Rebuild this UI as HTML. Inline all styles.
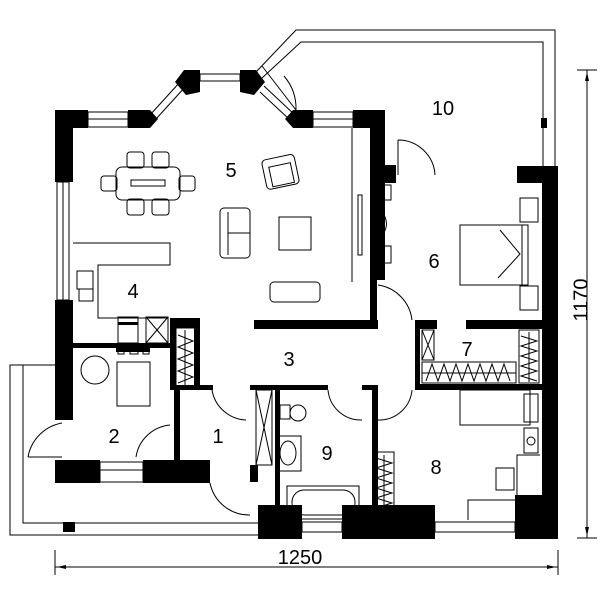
<!DOCTYPE html>
<html><head><meta charset="utf-8"><style>
html,body{margin:0;padding:0;background:#fff}
svg{display:block}
text{font-family:"Liberation Sans",Arial,sans-serif;fill:#000}
</style></head><body>
<svg width="600" height="600" viewBox="0 0 600 600" xmlns="http://www.w3.org/2000/svg">
<g fill="none" stroke="#000" stroke-width="1">
<!-- terrace 10 -->
<polyline points="256,72 296,30 555,30 555,166"/>
<polyline points="262,78 301,42 543,42 543,166"/>
<!-- terrace left -->
<polyline points="55,365 10,365 10,535 258,535"/>
<polyline points="55,365 23,365 23,523 258,523"/>
<!-- windows -->
<rect x="88" y="112" width="40" height="15"/><line x1="88" y1="119" x2="128" y2="119"/>
<rect x="313" y="112" width="40" height="15"/><line x1="313" y1="119" x2="353" y2="119"/>
<rect x="200" y="74" width="40" height="7"/>
<line x1="150" y1="115" x2="180" y2="82"/><line x1="156" y1="119" x2="186" y2="86"/>
<line x1="264" y1="86" x2="296" y2="116"/><line x1="260" y1="92" x2="290" y2="120"/>
<path d="M262,66 L296,110 A50,50 0 0 0 284,76"/>
<rect x="57" y="182" width="12" height="118"/><line x1="63" y1="182" x2="63" y2="300"/>
<rect x="100" y="462" width="43" height="20"/><line x1="100" y1="470" x2="143" y2="470"/>
<rect x="302" y="522" width="40" height="10"/>
<rect x="435" y="522" width="80" height="10"/>
<rect x="548" y="420" width="8" height="85"/>
<!-- living room -->
<line x1="352" y1="128" x2="352" y2="282"/>
<rect x="358" y="195" width="4" height="60"/>
<!-- dining -->
<rect x="116" y="167" width="64" height="33" rx="6"/>
<rect x="131" y="180" width="34" height="6"/>
<rect x="127" y="152" width="17" height="16" rx="3"/><rect x="152" y="152" width="17" height="16" rx="3"/>
<rect x="127" y="199" width="17" height="16" rx="3"/><rect x="152" y="199" width="17" height="16" rx="3"/>
<rect x="101" y="176" width="16" height="15" rx="3"/><rect x="179" y="176" width="16" height="15" rx="3"/>
<!-- armchair -->
<rect x="264" y="157" width="33" height="30" rx="4" transform="rotate(-12 280 172)"/>
<rect x="270" y="165" width="22" height="20" transform="rotate(-12 280 172)"/>
<!-- sofa -->
<rect x="220" y="208" width="30" height="50" rx="4"/><line x1="228" y1="212" x2="228" y2="255"/><line x1="228" y1="233" x2="250" y2="233"/>
<rect x="279" y="217" width="32" height="33"/>
<rect x="270" y="282" width="50" height="20" rx="4"/>
<!-- kitchen -->
<polyline points="73,243 170,243 170,265 98,265 98,318 168,318"/>
<rect x="77" y="271" width="16" height="18"/><rect x="79" y="289" width="14" height="12"/>
<rect x="118" y="317" width="20" height="26"/>
<rect x="146" y="317" width="22" height="26"/><line x1="146" y1="317" x2="168" y2="343"/><line x1="168" y1="317" x2="146" y2="343"/>
<!-- closets -->
<rect x="176" y="328" width="19" height="58"/>
<path d="M178,335 l15,6 l-15,6 l15,6 l-15,6 l15,6 l-15,6 l15,6 l-15,6 M185,330 v55"/>
<rect x="422" y="330" width="12" height="30"/><line x1="422" y1="330" x2="434" y2="360"/><line x1="434" y1="330" x2="422" y2="360"/>
<rect x="422" y="362" width="94" height="21"/>
<path d="M426,381 l6,-17 l6,17 l6,-17 l6,17 l6,-17 l6,17 l6,-17 l6,17 l6,-17 l6,17 l6,-17 l6,17 l6,-17 l6,17 M422,373 h94"/>
<rect x="519" y="330" width="20" height="53"/>
<path d="M521,336 l16,5 l-16,5 l16,5 l-16,5 l16,5 l-16,5 l16,5 l-16,5 l16,5 M529,332 v50"/>
<rect x="256" y="390" width="16" height="75"/><line x1="256" y1="390" x2="272" y2="465"/><line x1="272" y1="390" x2="256" y2="465"/>
<rect x="374" y="452" width="20" height="68"/>
<path d="M376,458 l16,5 l-16,5 l16,5 l-16,5 l16,5 l-16,5 l16,5 l-16,5 l16,5 l-16,5 l16,5 M384,455 v62"/>
<!-- room 2 -->
<circle cx="95" cy="370" r="14"/>
<rect x="117" y="362" width="33" height="44"/>
<rect x="118" y="350" width="6" height="4"/><rect x="130" y="350" width="8" height="4"/><rect x="143" y="350" width="6" height="4"/>
<!-- doors -->
<path d="M398,140 L398,175 M398,140 A37,37 0 0 1 435,175"/>
<path d="M28,457 A42,42 0 0 1 62,423 M28,457 L62,457"/>
<path d="M136,457 A38,38 0 0 1 170,425"/>
<path d="M212,390 A36,36 0 0 0 246,420"/>
<path d="M210,483 A40,40 0 0 0 250,515"/>
<path d="M328,390 A33,33 0 0 0 362,420"/>
<path d="M412,390 A33,33 0 0 1 378,420"/>
<path d="M378,285 A40,40 0 0 1 412,320"/>
<!-- room 6 -->
<rect x="460" y="225" width="68" height="60"/><line x1="522" y1="225" x2="522" y2="285"/>
<polyline points="500,230 520,254 498,278"/>
<rect x="520" y="198" width="18" height="24"/><rect x="520" y="286" width="18" height="24"/>
<rect x="373" y="185" width="18" height="15"/><rect x="373" y="246" width="18" height="17"/>
<path d="M373,203 Q400,224 373,244"/>
<!-- bath -->
<rect x="280" y="405" width="10" height="14"/><ellipse cx="298" cy="413" rx="8" ry="8"/>
<rect x="278" y="436" width="23" height="35"/><ellipse cx="288" cy="453" rx="8" ry="12"/>
<rect x="287" y="486" width="72" height="33"/><rect x="292" y="490" width="63" height="25" rx="12"/>
<!-- room 8 -->
<rect x="460" y="390" width="70" height="35"/>
<rect x="524" y="394" width="14" height="28"/>
<rect x="524" y="428" width="14" height="25"/><circle cx="531" cy="441" r="4"/>
<polyline points="540,455 517,455 517,500 468,500 468,520"/>
<rect x="496" y="468" width="18" height="22"/>
</g>
<g fill="#000">
<!-- walls -->
<rect x="55" y="110" width="18" height="72"/>
<rect x="55" y="110" width="33" height="18"/>
<polygon points="128,110 150,110 158,119 150,128 128,128"/>
<polygon points="175,82 184,70 200,70 200,92 186,95"/>
<polygon points="240,70 256,70 265,82 254,95 240,92"/>
<polygon points="293,110 313,110 313,128 293,128 285,119"/>
<rect x="353" y="110" width="32" height="18"/>
<rect x="370" y="110" width="15" height="170"/>
<rect x="385" y="165" width="11" height="18"/>
<rect x="541" y="118" width="6" height="10"/>
<rect x="517" y="166" width="41" height="17"/>
<rect x="542" y="166" width="16" height="373"/>
<rect x="370" y="280" width="7" height="40"/>
<rect x="55" y="300" width="18" height="120"/>
<rect x="73" y="343" width="97" height="5"/>
<rect x="116" y="348" width="34" height="4"/>
<rect x="170" y="318" width="30" height="10"/><rect x="170" y="318" width="6" height="72"/><rect x="194" y="318" width="6" height="72"/>
<rect x="254" y="320" width="124" height="9"/>
<rect x="415" y="320" width="22" height="9"/>
<rect x="466" y="320" width="76" height="9"/>
<rect x="415" y="320" width="5" height="70"/>
<rect x="415" y="384" width="127" height="6"/>
<rect x="174" y="385" width="39" height="5"/>
<rect x="250" y="385" width="78" height="5"/>
<rect x="362" y="385" width="16" height="5"/>
<rect x="174" y="385" width="6" height="75"/>
<rect x="275" y="388" width="5" height="134"/>
<rect x="372" y="388" width="6" height="132"/>
<rect x="55" y="460" width="45" height="23"/>
<rect x="143" y="460" width="67" height="23"/>
<rect x="250" y="465" width="8" height="17"/>
<rect x="258" y="505" width="44" height="34"/>
<rect x="258" y="505" width="22" height="34"/>
<rect x="342" y="505" width="93" height="34"/>
<rect x="515" y="495" width="43" height="44"/>
<rect x="63" y="522" width="12" height="10"/>
<rect x="118" y="322" width="20" height="3"/>
</g>
<!-- dimensions -->
<g stroke="#000" stroke-width="1" fill="none">
<line x1="55" y1="567" x2="558" y2="567"/>
<line x1="55" y1="550" x2="55" y2="575"/><line x1="558" y1="550" x2="558" y2="575"/>
<line x1="587" y1="70" x2="587" y2="538"/>
<line x1="577" y1="70" x2="597" y2="70"/><line x1="577" y1="538" x2="597" y2="538"/>
</g>
<g fill="#000">
<polygon points="57,567 66,565 66,569"/><polygon points="556,567 547,565 547,569"/>
<polygon points="587,72 585,81 589,81"/><polygon points="587,536 585,527 589,527"/>
</g>
<g font-size="20" text-anchor="middle">
<text x="300" y="564">1250</text>
<text x="0" y="0" transform="translate(582,300) rotate(-90)" dominant-baseline="middle">1170</text>
<text x="443" y="115">10</text>
<text x="231" y="177">5</text>
<text x="434" y="268">6</text>
<text x="133" y="298">4</text>
<text x="289" y="366">3</text>
<text x="467" y="356">7</text>
<text x="114" y="443">2</text>
<text x="218" y="443">1</text>
<text x="327" y="460">9</text>
<text x="436" y="474">8</text>
</g>
</svg>
</body></html>
